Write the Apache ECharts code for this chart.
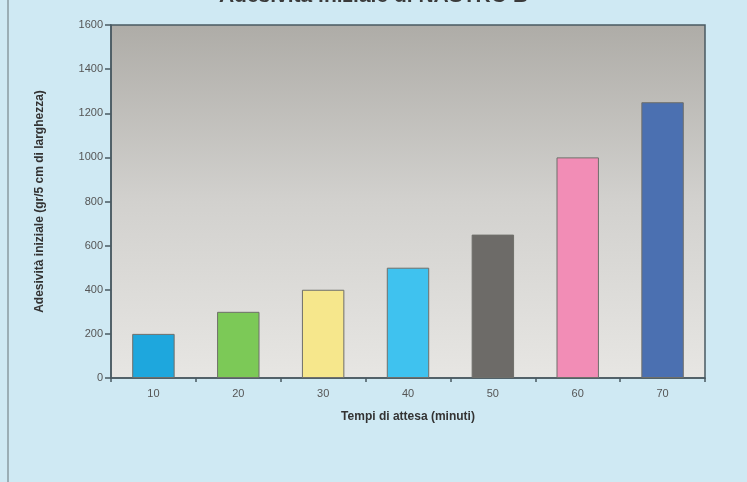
<!DOCTYPE html>
<html>
<head>
<meta charset="utf-8">
<script src="https://cdn.jsdelivr.net/npm/echarts@6/dist/echarts.min.js"></script>
<style>
  html, body { margin: 0; padding: 0; background: #cfe9f3; }
  #chart { width: 747px; height: 482px; }
</style>
</head>
<body>
<div id="chart"></div>
<script>
// Waiting time categories (minutes)
const categories = ['10', '20', '30', '40', '50', '60', '70'];
// Initial tack values (gr/5 cm width)
const values = [200, 300, 400, 500, 650, 1000, 1250];
// One fill colour per bar
const barColors = ['#1ea7dd', '#7cc957', '#f6e78c', '#3fc2ef', '#6d6b68', '#f28db6', '#4b70b1'];
// Value axis ticks
const yTicks = [0, 200, 400, 600, 800, 1000, 1200, 1400, 1600];

const chart = echarts.init(document.getElementById('chart'));
chart.setOption({
  backgroundColor: '#cfe9f3',
  animation: false,
  title: {
    text: 'Adesività iniziale di NASTRO B',
    left: 'center',
    top: -19,
    textStyle: { fontFamily: 'Liberation Sans', fontSize: 21, fontWeight: 'bold', color: '#3a3a3a' }
  },
  graphic: [
    { type: 'line', shape: { x1: 8, y1: 0, x2: 8, y2: 482 }, style: { stroke: '#8a9aa0', lineWidth: 1.5 } }
  ],
  grid: {
    left: 111, right: 42, top: 25, bottom: 104,
    show: true,
    borderColor: '#4a5a62',
    borderWidth: 1.5,
    backgroundColor: {
      type: 'linear', x: 0, y: 0, x2: 0, y2: 1,
      colorStops: [
        { offset: 0, color: '#aeaca7' },
        { offset: 0.5, color: '#d2d1ce' },
        { offset: 1, color: '#e7e6e3' }
      ]
    }
  },
  xAxis: {
    type: 'category',
    data: categories,
    boundaryGap: true,
    name: 'Tempi di attesa (minuti)',
    nameLocation: 'middle',
    nameGap: 33,
    nameTextStyle: { fontFamily: 'Liberation Sans', fontSize: 12, fontWeight: 'bold', color: '#333' },
    axisLine: { lineStyle: { color: '#4a5a62', width: 1.5 } },
    axisTick: { show: true, alignWithLabel: false, length: 4, inside: false, lineStyle: { color: '#4a5a62', width: 1.5 } },
    axisLabel: { fontFamily: 'Liberation Sans', fontSize: 11, color: '#555', margin: 10 },
    splitLine: { show: false }
  },
  yAxis: {
    type: 'value',
    min: yTicks[0],
    max: yTicks[yTicks.length - 1],
    interval: yTicks[1] - yTicks[0],
    name: 'Adesività iniziale (gr/5 cm di larghezza)',
    nameLocation: 'middle',
    nameGap: 65,
    nameTextStyle: { fontFamily: 'Liberation Sans', fontSize: 12, fontWeight: 'bold', color: '#333' },
    axisLine: { show: true, lineStyle: { color: '#4a5a62', width: 1.5 } },
    axisTick: { show: true, length: 6, lineStyle: { color: '#4a5a62', width: 1.5 } },
    axisLabel: { fontFamily: 'Liberation Sans', fontSize: 11, color: '#555', margin: 8, formatter: v => String(v) },
    splitLine: { show: false }
  },
  series: [{
    type: 'bar',
    barWidth: '50%',
    data: values.map((v, i) => ({
      value: v,
      itemStyle: { color: barColors[i], borderColor: '#6f6f6a', borderWidth: 1 }
    }))
  }]
});
</script>
</body>
</html>
